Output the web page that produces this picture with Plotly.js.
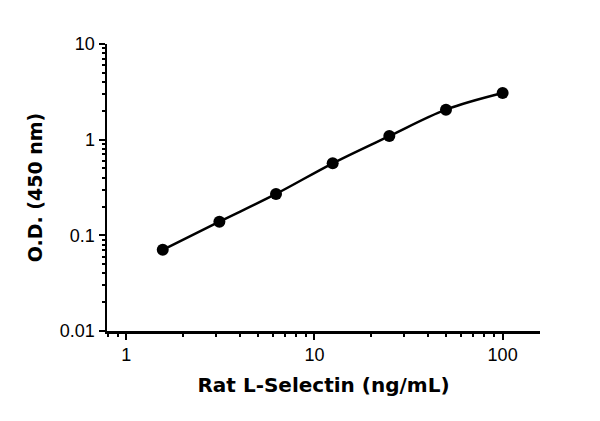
<!DOCTYPE html>
<html>
<head>
<meta charset="utf-8">
<script src="https://cdn.plot.ly/plotly-3.0.1.min.js"></script>
<style>
  html, body { margin: 0; padding: 0; background: #ffffff; }
  #chart { width: 600px; height: 421px; }
</style>
</head>
<body>
<div id="chart"></div>
<script>
// Standard curve values.
const concentrations = [1.5625, 3.125, 6.25, 12.5, 25, 50, 100];
const opticalDensity = [0.0706, 0.139, 0.271, 0.566, 1.09, 2.06, 3.07];

const yTickVals = [0.01, 0.1, 1, 10];
const yTickText = ["0.01", "0.1", "1", "10"];
const xTickVals = [1, 10, 100];
const xTickText = ["1", "10", "100"];

const TEXT_COLOR = "#000000";
const TICK_FONT = { family: "Liberation Sans", size: 18, color: TEXT_COLOR };
const TITLE_FONT = { family: "DejaVu Sans", size: 20, color: TEXT_COLOR, weight: "bold" };

const axisStyle = (overrides = {}) => ({
  type: "log",
  showgrid: false,
  zeroline: false,
  showline: true,
  linecolor: TEXT_COLOR,
  linewidth: 2.5,
  ticks: "outside",
  ticklen: 6,
  tickwidth: 2,
  tickcolor: TEXT_COLOR,
  tickfont: TICK_FONT,
  tickmode: "array",
  minor: { ticks: "outside", ticklen: 3, tickwidth: 2, tickcolor: TEXT_COLOR, dtick: "D1" },
  ...overrides,
});

const data = [
  {
    type: "scatter",
    mode: "lines+markers",
    x: concentrations,
    y: opticalDensity,
    line: { color: TEXT_COLOR, width: 2.5, shape: "spline", smoothing: 1 },
    marker: { color: TEXT_COLOR, size: 12 },
    showlegend: false,
    hoverinfo: "x+y",
  },
];

const layout = {
  width: 600,
  height: 421,
  paper_bgcolor: "#ffffff",
  plot_bgcolor: "#ffffff",
  margin: { l: 107, r: 60, t: 44, b: 90 },
  showlegend: false,
  xaxis: axisStyle({
    range: [Math.log10(0.79), Math.log10(158)],
    tickvals: xTickVals,
    ticktext: xTickText,
    title: { text: "Rat L-Selectin (ng/mL)", font: TITLE_FONT, standoff: 14 },
  }),
  yaxis: axisStyle({
    range: [-2, 1],
    tickvals: yTickVals,
    ticktext: yTickText,
    title: { text: "O.D. (450 nm)", font: { ...TITLE_FONT, size: 19 }, standoff: 12 },
  }),
};

Plotly.newPlot("chart", data, layout, { displayModeBar: false, staticPlot: true });
</script>
</body>
</html>
